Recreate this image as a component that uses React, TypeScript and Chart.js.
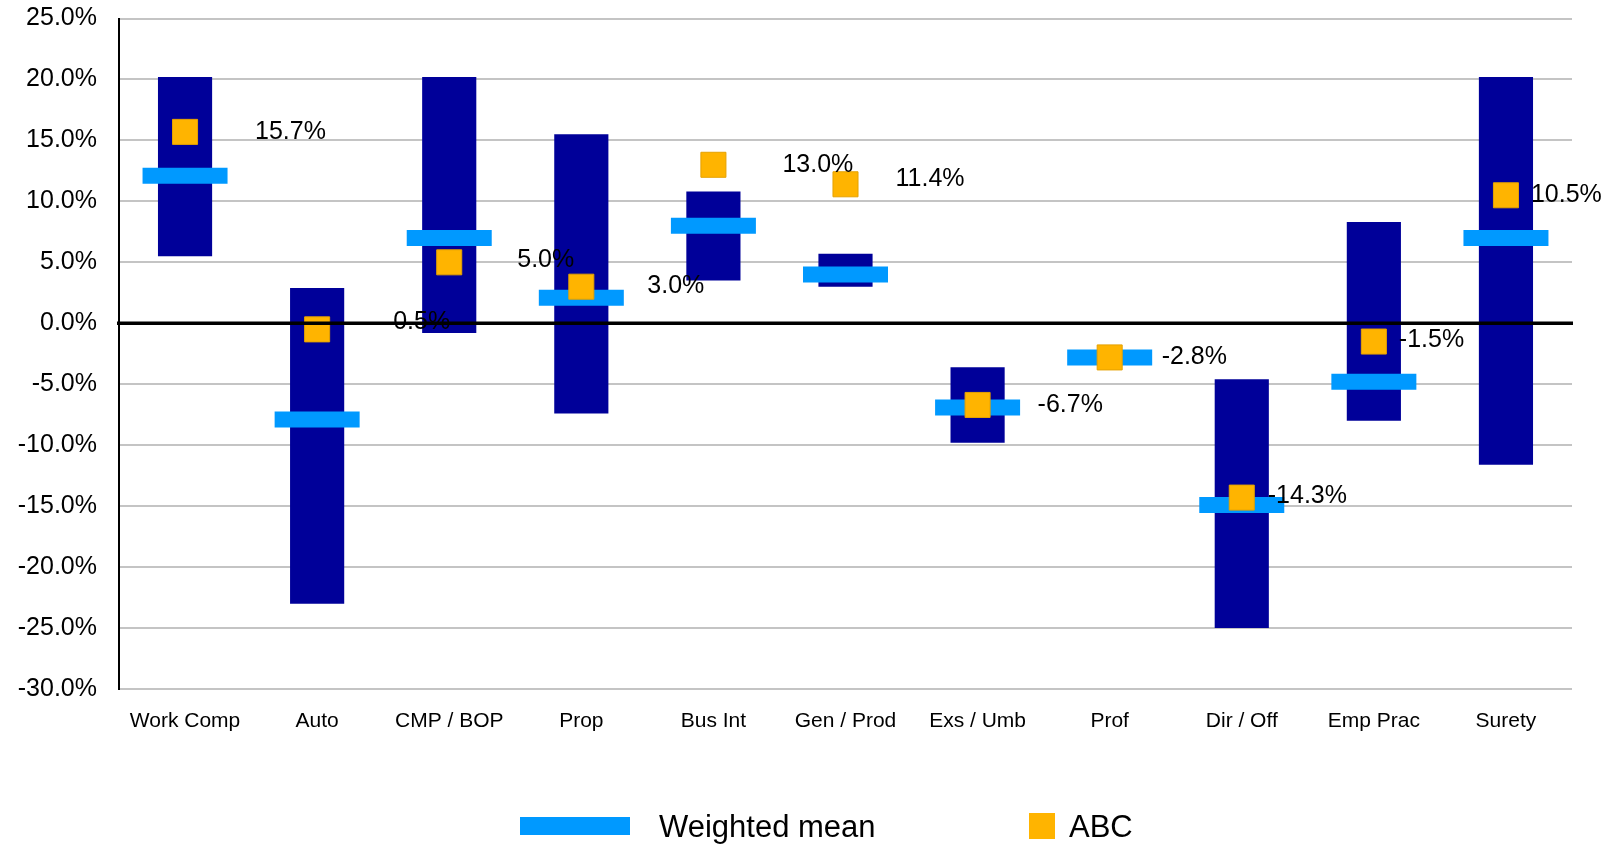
import React, { useEffect, useRef } from 'react';
import { Chart, registerables } from 'chart.js';

Chart.register(...registerables);

const categories = ['Work Comp', 'Auto', 'CMP / BOP', 'Prop', 'Bus Int', 'Gen / Prod', 'Exs / Umb', 'Prof', 'Dir / Off', 'Emp Prac', 'Surety'];
const rangeLow: (number | null)[] = [5.5, -23.0, -0.8, -7.4, 3.5, 3.0, -9.8, null, -25.0, -8.0, -11.6];
const rangeHigh: (number | null)[] = [20.2, 2.9, 20.2, 15.5, 10.8, 5.7, -3.6, null, -4.6, 8.3, 20.2];
const weightedMean = [12.1, -7.9, 7.0, 2.1, 8.0, 4.0, -6.9, -2.8, -14.9, -4.8, 7.0];
const abcValues = [15.7, -0.5, 5.0, 3.0, 13.0, 11.4, -6.7, -2.8, -14.3, -1.5, 10.5];
const abcLabels = ['15.7%', '0.5%', '5.0%', '3.0%', '13.0%', '11.4%', '-6.7%', '-2.8%', '-14.3%', '-1.5%', '10.5%'];
const yMin = -30;
const yMax = 25;
const yStep = 5;

// label offsets (px) relative to each ABC marker
const labelDx = [70, 76, 68, 66, 69, 50, 60, 52, 26, 25, 25];
const labelDy = [0, -7, -2, -1, 0, -5, 0, 0, -1, -1, 0];

const FONT = '"Liberation Sans", Arial, Helvetica, sans-serif';
const NAVY = '#000099';
const LIGHT = '#0099ff';
const ORANGE = '#ffb400';

const overlayPlugin = {
  id: 'overlay',
  afterDatasetsDraw(chart: any) {
    const ctx = chart.ctx as CanvasRenderingContext2D;
    const meta = chart.getDatasetMeta(2);
    ctx.save();
    ctx.font = `25px ${FONT}`;
    ctx.fillStyle = '#000';
    ctx.textAlign = 'left';
    ctx.textBaseline = 'middle';
    meta.data.forEach((pt: any, i: number) => {
      ctx.fillText(abcLabels[i], pt.x + labelDx[i], pt.y + labelDy[i]);
    });
    const y0 = chart.scales.y.getPixelForValue(0);
    ctx.strokeStyle = '#000';
    ctx.lineWidth = 3.5;
    ctx.beginPath();
    ctx.moveTo(chart.chartArea.left - 2, y0);
    ctx.lineTo(chart.chartArea.right + 1, y0);
    ctx.stroke();
    ctx.restore();
  },
  afterDraw(chart: any) {
    const ctx = chart.ctx as CanvasRenderingContext2D;
    const ds = chart.data.datasets;
    ctx.save();
    ctx.fillStyle = LIGHT;
    ctx.fillRect(520, 817, 110, 18);
    ctx.font = `31px ${FONT}`;
    ctx.fillStyle = '#000';
    ctx.textAlign = 'left';
    ctx.textBaseline = 'alphabetic';
    ctx.fillText(ds[1].label, 659, 836.5);
    ctx.fillStyle = ORANGE;
    ctx.fillRect(1029, 813, 26, 26);
    ctx.fillStyle = '#000';
    ctx.fillText(ds[2].label, 1069, 836.5);
    ctx.restore();
  },
};

export default function App() {
  const ref = useRef<HTMLCanvasElement>(null);
  useEffect(() => {
    if (!ref.current) return;
    const chart = new Chart(ref.current, {
      type: 'bar',
      data: {
        labels: categories,
        datasets: [
          {
            type: 'bar',
            label: 'Range',
            data: categories.map((_, i) => (rangeLow[i] === null || rangeHigh[i] === null ? null : [rangeLow[i], rangeHigh[i]])) as any,
            backgroundColor: NAVY,
            borderWidth: 0,
            barPercentage: 0.41,
            categoryPercentage: 1,
            order: 3,
          },
          {
            type: 'line',
            label: 'Weighted mean',
            data: weightedMean,
            showLine: false,
            pointStyle: 'line',
            pointRadius: 42.5,
            pointHoverRadius: 42.5,
            pointBorderWidth: 16,
            pointHoverBorderWidth: 16,
            pointBorderColor: LIGHT,
            pointBackgroundColor: LIGHT,
            order: 2,
          },
          {
            type: 'line',
            label: 'ABC',
            data: abcValues,
            showLine: false,
            pointStyle: 'rect',
            pointRadius: 17.7,
            pointHoverRadius: 17.7,
            pointBorderWidth: 1,
            pointBorderColor: '#e5a200',
            pointBackgroundColor: ORANGE,
            order: 1,
          },
        ],
      },
      options: {
        animation: false,
        responsive: true,
        maintainAspectRatio: false,
        events: [],
        layout: { autoPadding: false, padding: { top: 0, right: 41, left: 0, bottom: 0 } },
        plugins: {
          legend: { display: false },
          tooltip: { enabled: false },
        },
        scales: {
          x: {
            offset: true,
            grid: { display: false, drawTicks: false },
            border: { display: false },
            ticks: {
              color: '#000',
              font: { family: FONT, size: 21 },
              padding: 20,
              maxRotation: 0,
              autoSkip: false,
            },
            afterFit: (scale: any) => {
              scale.height = 156;
              scale.paddingLeft = 0;
              scale.paddingRight = 0;
            },
          },
          y: {
            min: yMin,
            max: yMax,
            grid: {
              drawTicks: false,
              lineWidth: 2,
              color: (c: any) => (c.tick && c.tick.value === 0 ? 'rgba(0,0,0,0)' : '#c4c4c4'),
            },
            border: { display: true, color: '#000', width: 2 },
            ticks: {
              stepSize: yStep,
              color: '#000',
              font: { family: FONT, size: 25 },
              padding: 22,
              callback: (v: any) => Number(v).toFixed(1) + '%',
            },
            afterFit: (scale: any) => {
              scale.width = 119;
              scale.paddingTop = 18.5;
              scale.paddingBottom = 0;
            },
          },
        },
      },
      plugins: [overlayPlugin],
    });
    return () => chart.destroy();
  }, []);
  return (
    <div style={{ position: 'fixed', left: 0, top: 0, width: 1613, height: 845, background: '#fff' }}>
      <canvas ref={ref} style={{ display: 'block' }} />
    </div>
  );
}
